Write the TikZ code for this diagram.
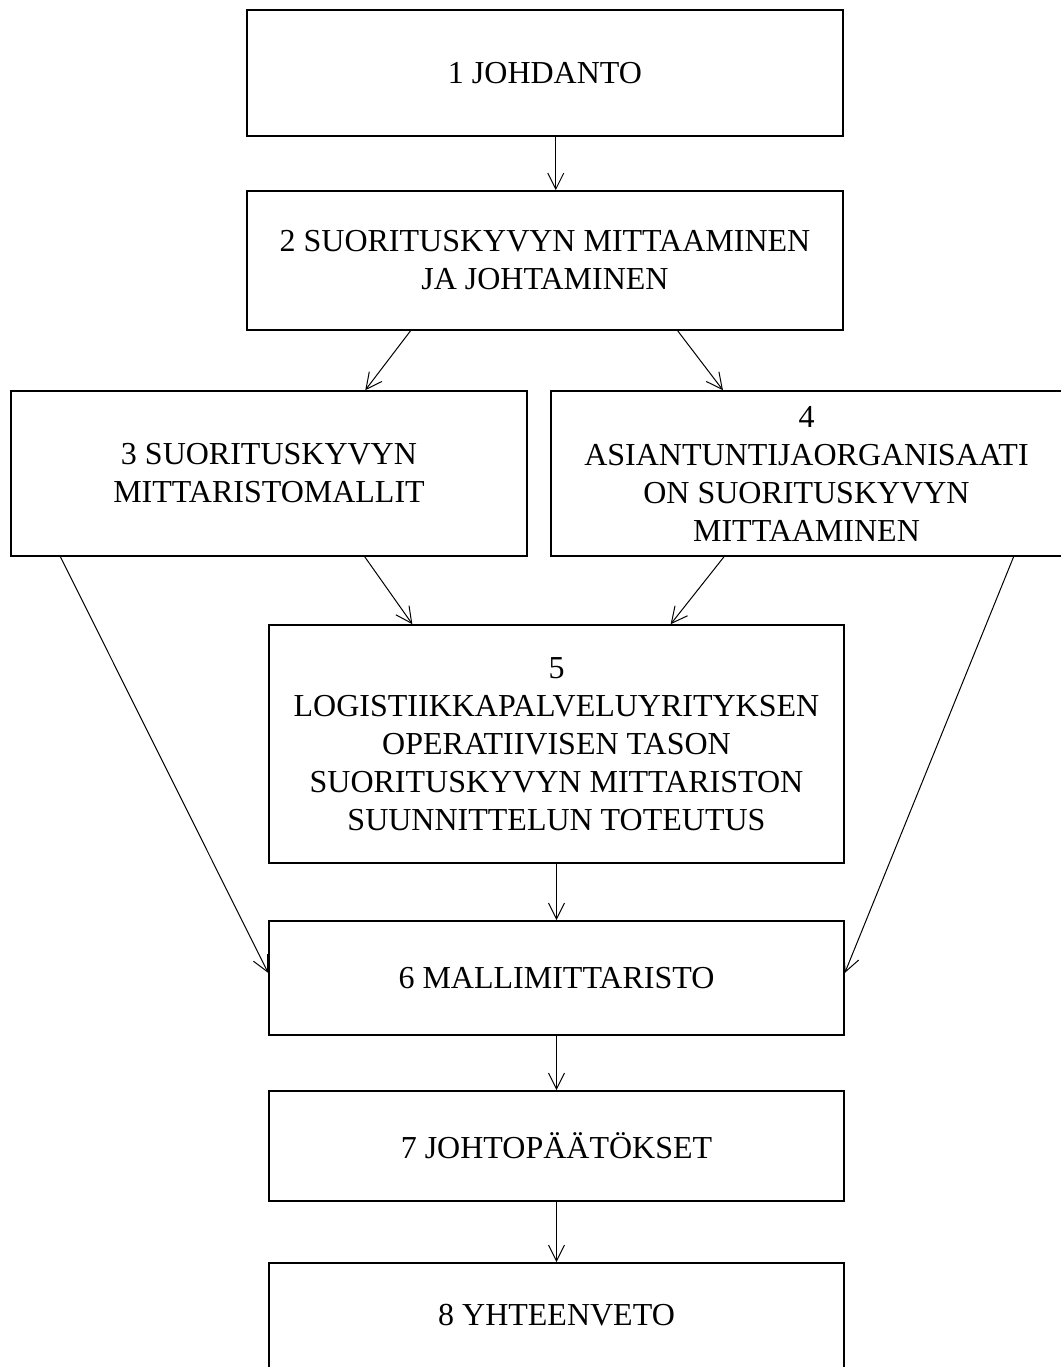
\documentclass[tikz,border=0pt]{standalone}
\usepackage{fontspec}
\setmainfont{Liberation Serif}
\usetikzlibrary{arrows.meta,calc}

\begin{document}
\begin{tikzpicture}[x=0.5pt, y=-0.5pt,
		box/.style={draw, line width=0.8pt, inner sep=0pt, align=center, font=\fontsize{16}{19}\selectfont},
		arr/.style={-{Straight Barb[length=8pt,width=8pt]}, line width=0.5pt}]
			\useasboundingbox (0,0) rectangle (1061,1367);
			\node[box, minimum width=298pt, minimum height=63pt] (b1) at (545,73) {1 JOHDANTO};
			\node[box, minimum width=298pt, minimum height=69.5pt] (b2) at (545,260.5) {2 SUORITUSKYVYN MITTAAMINEN\\JA JOHTAMINEN};
			\node[box, minimum width=258pt, minimum height=82.5pt] (b3) at (269,473.5) {3 SUORITUSKYVYN\\MITTARISTOMALLIT};
			\node[box, minimum width=255.5pt, minimum height=82.5pt] (b4) at (806.5,473.5) {4\\ASIANTUNTIJAORGANISAATI\\ON SUORITUSKYVYN\\MITTAAMINEN};
			\node[box, minimum width=287.5pt, minimum height=119pt] (b5) at (556.5,744) {5\\LOGISTIIKKAPALVELUYRITYKSEN\\OPERATIIVISEN TASON\\SUORITUSKYVYN MITTARISTON\\SUUNNITTELUN TOTEUTUS};
			\node[box, minimum width=287.5pt, minimum height=57pt] (b6) at (556.5,978) {6 MALLIMITTARISTO};
			\node[box, minimum width=287.5pt, minimum height=55pt] (b7) at (556.5,1146) {7 JOHTOPÄÄTÖKSET};
			\node[box, minimum width=287.5pt, minimum height=52.5pt] (b8) at (556.5,1315.5) {8 YHTEENVETO};
			\draw[arr] ($(b1.south west)!0.518!(b1.south east)$) -- ($(b2.north west)!0.518!(b2.north east)$);
			\draw[arr] ($(b2.south west)!0.275!(b2.south east)$) -- ($(b3.north west)!0.686!(b3.north east)$);
			\draw[arr] ($(b2.south west)!0.722!(b2.south east)$) -- ($(b4.north west)!0.337!(b4.north east)$);
			\draw[arr] ($(b3.south west)!0.685!(b3.south east)$) -- ($(b5.north west)!0.25!(b5.north east)$);
			\draw[arr] ($(b4.south west)!0.339!(b4.south east)$) -- ($(b5.north west)!0.698!(b5.north east)$);
			\draw[arr] ($(b3.south west)!0.097!(b3.south east)$) -- ($(b6.north west)!0.456!(b6.south west)$);
			\draw[arr] ($(b4.south west)!0.904!(b4.south east)$) -- ($(b6.north east)!0.456!(b6.south east)$);
			\draw[arr] (b5.south) -- (b6.north);
			\draw[arr] (b6.south) -- (b7.north);
			\draw[arr] (b7.south) -- (b8.north);
		\end{tikzpicture}
\end{document}
